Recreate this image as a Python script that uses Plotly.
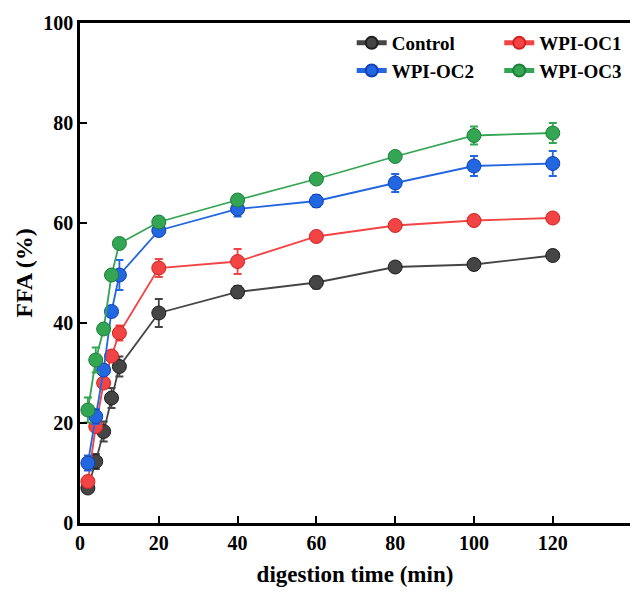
import plotly.graph_objects as go

time = [2, 4, 6, 8, 10, 20, 40, 60, 80, 100, 120]

control = [7.0, 12.3, 18.3, 25.0, 31.3, 42.0, 46.2, 48.1, 51.2, 51.7, 53.5]
control_err = [0.8, 1.5, 2.0, 2.0, 2.0, 2.8, 1.2, 1.2, 0.8, 1.0, 1.0]

oc1 = [8.3, 19.3, 28.0, 33.4, 38.0, 51.0, 52.3, 57.3, 59.5, 60.5, 61.0]
oc1_err = [1.0, 1.0, 1.0, 1.0, 1.5, 1.8, 2.5, 1.0, 0.8, 0.8, 0.8]

oc2 = [12.0, 21.3, 30.6, 42.3, 49.6, 58.5, 62.8, 64.4, 68.0, 71.4, 71.9]
oc2_err = [1.5, 1.5, 1.0, 1.0, 3.0, 1.0, 1.5, 1.2, 1.8, 2.0, 2.5]

oc3 = [22.6, 32.6, 38.8, 49.6, 55.9, 60.2, 64.6, 68.8, 73.3, 77.5, 78.0]
oc3_err = [2.5, 2.5, 1.0, 1.0, 1.0, 1.0, 0.8, 0.8, 0.8, 1.8, 2.0]

series = [
    ("Control", control, control_err, "#454545", "#1e1e1e", "legend"),
    ("WPI-OC1", oc1, oc1_err, "#f24444", "#d42020", "legend2"),
    ("WPI-OC2", oc2, oc2_err, "#2266e0", "#1040b8", "legend"),
    ("WPI-OC3", oc3, oc3_err, "#33a553", "#1c8038", "legend2"),
]

fig = go.Figure()
for name, vals, errs, col, edge, lg in series:
    fig.add_trace(go.Scatter(
        x=time, y=vals, name=name, mode="lines+markers", legend=lg,
        line=dict(color=col, width=1.8),
        marker=dict(symbol="circle", size=14, color=col, line=dict(color=edge, width=1)),
        error_y=dict(type="data", array=errs, visible=True, color=col, thickness=1.8, width=4),
    ))

font_family = "Liberation Serif, Times New Roman, serif"
legend_font = dict(family=font_family, size=19, color="black", weight="bold")
fig.update_layout(
    width=630, height=592,
    margin=dict(l=80, r=0, t=23, b=69),
    plot_bgcolor="white", paper_bgcolor="white",
    font=dict(family=font_family, color="black", size=18),
    showlegend=True,
    legend=dict(
        x=0.494, y=0.998, xanchor="left", yanchor="top",
        font=legend_font, bgcolor="rgba(0,0,0,0)", tracegroupgap=0,
        itemsizing="constant",
    ),
    legend2=dict(
        x=0.995, y=0.998, xanchor="right", yanchor="top",
        font=legend_font, bgcolor="rgba(0,0,0,0)", tracegroupgap=0,
        itemsizing="constant",
    ),
)
fig.update_xaxes(
    range=[0, 139.6], tickvals=[0, 20, 40, 60, 80, 100, 120],
    ticks="inside", ticklen=7, tickwidth=2, tickcolor="black",
    showline=True, linewidth=2.5, linecolor="black", mirror=True,
    showgrid=False, zeroline=False, automargin=False,
    tickfont=dict(family=font_family, size=20, weight="bold"),
    title=dict(text="digestion time (min)", font=dict(family=font_family, size=23, weight="bold"), standoff=14),
)
fig.update_yaxes(
    range=[0, 100], tickvals=[0, 20, 40, 60, 80, 100],
    ticks="inside", ticklen=7, tickwidth=2, tickcolor="black",
    showline=True, linewidth=2.5, linecolor="black", mirror=False,
    showgrid=False, zeroline=False, automargin=False,
    tickfont=dict(family=font_family, size=20, weight="bold"),
    title=dict(text="FFA (%)", font=dict(family=font_family, size=24, weight="bold"), standoff=4),
)

fig.write_html("out.html")
